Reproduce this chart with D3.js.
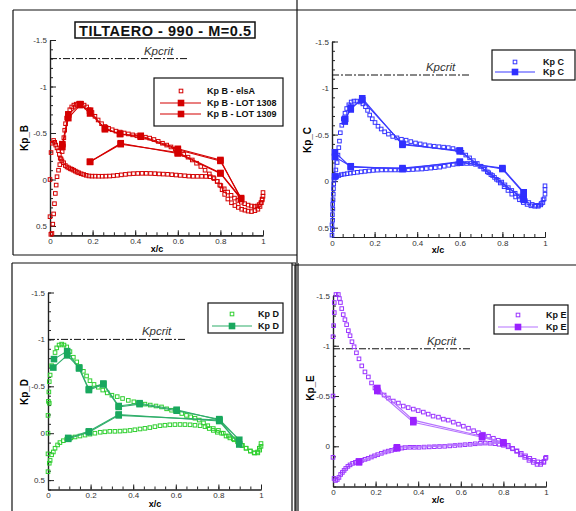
<!DOCTYPE html>
<html><head><meta charset="utf-8">
<script src="https://cdn.jsdelivr.net/npm/d3@7"></script>
<style>
body{margin:0;background:#fff}
svg{display:block}
text{font-family:"Liberation Sans",Arial,sans-serif}
</style>
</head><body>
<svg id="c" width="576" height="511"></svg>
<script>
// ---- Section B : elsA computation (x/c, Kp)
const elsaB = [
  [0.004,0.59],[0.000,0.40],[0.000,0.00],[0.005,-0.29],[0.011,-0.39],[0.017,-0.42],[0.022,-0.40],[0.027,-0.37],
  [0.033,-0.34],[0.040,-0.31],[0.044,-0.27],[0.048,-0.23],[0.056,-0.20],[0.064,-0.18],[0.072,-0.15],[0.080,-0.135],
  [0.088,-0.125],[0.096,-0.115],[0.103,-0.11],[0.111,-0.10],[0.119,-0.09],[0.127,-0.08],[0.135,-0.072],[0.146,-0.062],
  [0.158,-0.054],[0.170,-0.045],[0.183,-0.038],[0.197,-0.036],[0.212,-0.036],[0.228,-0.035],[0.245,-0.035],[0.262,-0.036],
  [0.280,-0.037],[0.298,-0.040],[0.316,-0.045],[0.335,-0.05],[0.354,-0.055],[0.373,-0.06],[0.392,-0.063],[0.412,-0.065],
  [0.432,-0.066],[0.452,-0.066],[0.472,-0.065],[0.492,-0.063],[0.512,-0.06],[0.532,-0.058],[0.552,-0.056],[0.572,-0.052],
  [0.592,-0.048],[0.612,-0.044],[0.632,-0.04],[0.652,-0.036],[0.672,-0.034],[0.692,-0.034],[0.712,-0.034],[0.732,-0.033],
  [0.752,-0.03],[0.770,-0.01],[0.785,0.02],[0.797,0.06],[0.808,0.11],[0.820,0.16],[0.835,0.21],[0.852,0.25],
  [0.868,0.28],[0.884,0.30],[0.900,0.32],[0.915,0.33],[0.930,0.34],[0.946,0.345],[0.962,0.335],[0.976,0.32],
  [0.986,0.29],[0.992,0.25],[0.996,0.21],
  [0.009,0.58],[0.013,0.48],[0.017,0.37],[0.021,0.26],[0.025,0.15],[0.029,0.06],[0.033,-0.03],[0.040,-0.10],
  [0.046,-0.16],[0.052,-0.22],[0.057,-0.30],[0.061,-0.38],[0.065,-0.45],[0.069,-0.53],[0.073,-0.60],[0.078,-0.66],
  [0.085,-0.71],[0.093,-0.75],[0.102,-0.78],[0.112,-0.80],[0.123,-0.81],[0.135,-0.82],[0.148,-0.82],[0.160,-0.80],
  [0.172,-0.78],[0.184,-0.75],[0.197,-0.72],[0.211,-0.68],[0.226,-0.64],[0.242,-0.60],[0.258,-0.57],[0.275,-0.55],
  [0.292,-0.535],[0.310,-0.52],[0.329,-0.51],[0.348,-0.50],[0.368,-0.49],[0.388,-0.48],[0.408,-0.47],[0.428,-0.465],
  [0.448,-0.455],[0.468,-0.445],[0.488,-0.43],[0.508,-0.41],[0.528,-0.39],[0.548,-0.37],[0.568,-0.35],[0.588,-0.325],
  [0.608,-0.30],[0.628,-0.27],[0.648,-0.24],[0.668,-0.21],[0.688,-0.175],[0.708,-0.14],[0.728,-0.10],[0.748,-0.06],
  [0.767,-0.02],[0.785,0.02],[0.802,0.065],[0.818,0.10],[0.834,0.135],[0.850,0.17],[0.866,0.20],[0.882,0.225],
  [0.898,0.245],[0.914,0.26],[0.930,0.275],[0.946,0.285],[0.960,0.29],[0.972,0.285],[0.982,0.27],[0.990,0.25],
  [0.996,0.22],[1.000,0.18],[1.000,0.14]
];
// Section B : wind tunnel runs
const lotB1308 = [[0.058,-0.35],[0.086,-0.66],[0.141,-0.80],[0.188,-0.74],[0.258,-0.54],[0.329,-0.49],[0.426,-0.47],
  [0.600,-0.33],[0.800,-0.21],[0.897,0.21],[0.800,-0.065],[0.600,-0.28],[0.332,-0.39],[0.188,-0.19]];
const lotB1309 = [[0.058,-0.38],[0.086,-0.70],[0.141,-0.81],[0.188,-0.71],[0.258,-0.55],[0.329,-0.49],[0.426,-0.46],
  [0.600,-0.32],[0.800,-0.20],[0.897,0.20],[0.800,-0.07],[0.600,-0.29],[0.332,-0.38],[0.188,-0.19]];

// ---- Section C
const elsaC = [
  [0.000,0.58],[0.002,0.52],[0.000,0.47],[0.003,0.42],[0.002,0.36],[0.004,0.30],[0.003,0.25],[0.005,0.20],
  [0.006,0.14],[0.007,0.08],[0.008,0.03],[0.010,-0.02],
  [0.012,-0.06],[0.018,-0.12],[0.024,-0.20],[0.028,-0.28],[0.032,-0.36],[0.035,-0.43],[0.039,-0.52],[0.046,-0.60],
  [0.053,-0.67],[0.061,-0.73],[0.069,-0.78],[0.079,-0.82],[0.090,-0.85],[0.103,-0.86],[0.117,-0.86],[0.131,-0.85],
  [0.145,-0.83],[0.157,-0.80],[0.167,-0.76],[0.177,-0.71],[0.189,-0.67],[0.202,-0.63],[0.216,-0.59],[0.231,-0.56],
  [0.247,-0.53],[0.265,-0.505],[0.285,-0.48],[0.305,-0.465],[0.326,-0.45],[0.348,-0.44],[0.370,-0.425],[0.392,-0.41],
  [0.414,-0.40],[0.436,-0.39],[0.458,-0.38],[0.480,-0.375],[0.502,-0.37],[0.524,-0.365],[0.546,-0.36],[0.568,-0.35],
  [0.590,-0.335],[0.610,-0.31],[0.628,-0.28],[0.646,-0.25],[0.664,-0.22],[0.682,-0.19],[0.700,-0.16],[0.718,-0.13],
  [0.736,-0.09],[0.754,-0.06],[0.772,-0.02],[0.790,0.02],[0.808,0.06],[0.826,0.10],[0.844,0.14],[0.862,0.17],
  [0.880,0.20],[0.898,0.23],[0.916,0.25],[0.934,0.265],[0.952,0.27],[0.968,0.27],[0.980,0.255],[0.990,0.23],
  [0.996,0.19],[1.000,0.14],[1.000,0.09],[1.000,0.05],
  [0.014,-0.04],[0.022,-0.05],[0.032,-0.06],[0.044,-0.07],[0.057,-0.075],[0.071,-0.08],[0.086,-0.085],[0.102,-0.09],
  [0.119,-0.095],[0.137,-0.10],[0.155,-0.105],[0.174,-0.11],[0.193,-0.115],[0.213,-0.118],[0.233,-0.12],[0.254,-0.12],
  [0.275,-0.12],[0.296,-0.12],[0.317,-0.12],[0.338,-0.12],[0.359,-0.122],[0.380,-0.125],[0.401,-0.128],[0.422,-0.13],
  [0.443,-0.135],[0.464,-0.14],[0.485,-0.145],[0.506,-0.15],[0.527,-0.16],[0.548,-0.17],[0.569,-0.18],[0.590,-0.185],
  [0.611,-0.19],[0.632,-0.19],[0.653,-0.19],[0.674,-0.18],[0.695,-0.16],[0.712,-0.13],[0.729,-0.10],[0.746,-0.07],
  [0.763,-0.04],[0.780,-0.01],[0.797,0.01],[0.812,0.04],[0.828,0.07],[0.844,0.10],[0.860,0.13],[0.876,0.16],
  [0.892,0.19],[0.908,0.21],[0.924,0.23],[0.940,0.25],[0.956,0.26],[0.970,0.26],[0.982,0.24],[0.991,0.20]
];
const lotC1 = [[0.062,-0.67],[0.088,-0.77],[0.142,-0.89],[0.331,-0.39],[0.600,-0.33],[0.900,0.20],[0.900,0.12],
  [0.800,-0.14],[0.600,-0.20],[0.331,-0.14],[0.088,-0.15],[0.014,-0.31],[0.014,-0.05]];
const lotC2 = [[0.060,-0.64],[0.088,-0.79],[0.142,-0.87],[0.331,-0.40],[0.600,-0.32],[0.900,0.19],[0.900,0.13],
  [0.800,-0.13],[0.600,-0.21],[0.331,-0.13],[0.088,-0.16],[0.014,-0.26]];

// ---- Section D
const elsaD = [
  [0.000,0.00],[0.000,-0.19],[0.002,-0.34],[0.000,0.22],[0.000,0.41],
  [0.006,-0.32],[0.004,-0.44],[0.006,-0.55],[0.010,-0.62],[0.017,-0.72],[0.025,-0.79],[0.033,-0.86],[0.041,-0.91],
  [0.052,-0.94],[0.064,-0.95],[0.075,-0.94],[0.088,-0.92],[0.103,-0.87],[0.119,-0.81],[0.135,-0.76],[0.150,-0.71],
  [0.166,-0.66],[0.181,-0.61],[0.197,-0.56],[0.216,-0.52],[0.236,-0.49],[0.257,-0.46],[0.278,-0.43],[0.300,-0.405],
  [0.325,-0.39],[0.350,-0.37],[0.377,-0.35],[0.403,-0.335],[0.430,-0.32],[0.455,-0.31],[0.480,-0.30],[0.507,-0.29],
  [0.533,-0.28],[0.557,-0.26],[0.580,-0.245],[0.604,-0.23],[0.628,-0.21],[0.650,-0.19],[0.670,-0.175],[0.690,-0.16],
  [0.710,-0.14],[0.730,-0.11],[0.750,-0.08],[0.776,-0.05],[0.800,-0.03],[0.823,0.00],[0.847,0.03],[0.870,0.06],
  [0.890,0.09],[0.910,0.13],[0.930,0.16],[0.950,0.19],[0.968,0.21],[0.984,0.20],[0.992,0.16],[1.000,0.11],
  [0.006,0.32],[0.010,0.29],[0.017,0.23],[0.025,0.20],[0.033,0.16],[0.045,0.125],[0.056,0.10],[0.072,0.08],
  [0.088,0.064],[0.107,0.05],[0.127,0.04],[0.150,0.03],[0.174,0.02],[0.197,0.01],[0.220,0.00],[0.245,-0.01],
  [0.267,-0.015],[0.290,-0.02],[0.314,-0.02],[0.338,-0.022],[0.361,-0.025],[0.385,-0.03],[0.408,-0.037],[0.432,-0.045],
  [0.455,-0.052],[0.478,-0.06],[0.502,-0.07],[0.526,-0.08],[0.549,-0.085],[0.572,-0.09],[0.596,-0.092],[0.620,-0.093],
  [0.643,-0.092],[0.667,-0.09],[0.690,-0.085],[0.714,-0.08],[0.737,-0.07],[0.757,-0.05],[0.776,-0.03],[0.795,-0.01],
  [0.815,0.00],[0.836,0.03],[0.854,0.05],[0.874,0.07],[0.893,0.10],[0.913,0.13],[0.930,0.16],[0.950,0.19],
  [0.970,0.21],[0.985,0.21],[0.994,0.18],[1.000,0.14]
];
const lotD1 = [[0.028,-0.79],[0.090,-0.875],[0.146,-0.69],[0.192,-0.46],[0.260,-0.52],[0.332,-0.28],[0.430,-0.31],
  [0.604,-0.24],[0.804,-0.15],[0.898,0.07],[0.804,-0.14],[0.332,-0.19],[0.192,-0.01],[0.095,0.06]];
const lotD2 = [[0.025,-0.70],[0.090,-0.83],[0.146,-0.70],[0.192,-0.47],[0.260,-0.53],[0.332,-0.29],[0.430,-0.32],
  [0.604,-0.25],[0.804,-0.14],[0.898,0.12],[0.804,-0.13],[0.332,-0.20],[0.192,-0.02],[0.095,0.05]];

// ---- Section E
const elsaE = [
  [0.000,-0.50],[0.000,0.11],
  [0.000,-1.09],[0.003,-1.20],[0.006,-1.33],[0.006,-1.43],[0.014,-1.51],[0.025,-1.51],[0.030,-1.47],[0.035,-1.43],
  [0.041,-1.37],[0.048,-1.31],[0.056,-1.26],[0.064,-1.21],[0.072,-1.15],[0.080,-1.10],[0.089,-1.04],[0.099,-0.99],
  [0.110,-0.93],[0.122,-0.87],[0.135,-0.80],[0.150,-0.74],[0.166,-0.69],[0.181,-0.63],[0.197,-0.58],[0.217,-0.54],
  [0.240,-0.51],[0.260,-0.48],[0.283,-0.45],[0.307,-0.43],[0.330,-0.40],[0.353,-0.385],[0.377,-0.37],[0.400,-0.355],
  [0.424,-0.34],[0.447,-0.32],[0.470,-0.30],[0.495,-0.29],[0.518,-0.27],[0.541,-0.26],[0.565,-0.24],[0.589,-0.22],
  [0.612,-0.20],[0.636,-0.18],[0.660,-0.155],[0.683,-0.135],[0.706,-0.12],[0.730,-0.10],[0.753,-0.08],[0.776,-0.06],
  [0.800,-0.035],[0.823,-0.01],[0.843,0.02],[0.862,0.05],[0.880,0.085],[0.900,0.11],[0.920,0.14],[0.940,0.16],
  [0.958,0.18],[0.975,0.18],[0.990,0.16],[1.000,0.11],
  [0.005,0.32],[0.012,0.34],[0.020,0.33],[0.028,0.31],[0.036,0.28],[0.044,0.26],[0.052,0.24],[0.060,0.22],
  [0.070,0.20],[0.080,0.185],[0.092,0.17],[0.105,0.16],[0.120,0.15],[0.135,0.14],[0.150,0.13],[0.165,0.12],
  [0.180,0.107],[0.195,0.095],[0.210,0.083],[0.227,0.07],[0.244,0.057],[0.260,0.048],[0.275,0.04],[0.291,0.031],
  [0.307,0.023],[0.323,0.018],[0.338,0.013],[0.360,0.01],[0.382,0.01],[0.404,0.01],[0.428,0.008],[0.452,0.006],
  [0.476,0.004],[0.500,0.002],[0.524,0.0],[0.548,-0.004],[0.572,-0.008],[0.596,-0.012],[0.620,-0.016],[0.644,-0.02],
  [0.668,-0.025],[0.692,-0.03],[0.715,-0.032],[0.738,-0.03],[0.760,-0.026],[0.780,-0.02],[0.800,-0.01],[0.822,0.005],
  [0.843,0.025],[0.864,0.045],[0.884,0.07],[0.904,0.095],[0.924,0.12],[0.944,0.14],[0.962,0.155],[0.978,0.16],
  [0.990,0.15],[0.997,0.12]
];
const lotE1 = [[0.208,-0.58],[0.377,-0.26],[0.700,-0.10],[0.800,-0.04],[0.300,0.01],[0.122,0.15]];
const lotE2 = [[0.208,-0.55],[0.377,-0.24],[0.700,-0.09],[0.800,-0.03],[0.300,0.02],[0.122,0.16]];

// critical pressure coefficient per section
const kpcrit = [-1.30, -1.14, -1.00, -0.97];
const yTitles = ["Kp_B", "Kp_C", "Kp_D", "Kp_E"];
const legendLabels = [
  ["Kp B - elsA", "Kp B - LOT 1308", "Kp B - LOT 1309"],
  ["Kp C", "Kp C"],
  ["Kp D", "Kp D"],
  ["Kp E", "Kp E"]
];
const yMajorTicks = [-1.5, -1, -0.5, 0, 0.5];
const xMajorTicks = [0, 0.2, 0.4, 0.6, 0.8, 1];
const yDomains = [[-1.5, 0.6], [-1.5, 0.6], [-1.5, 0.6], [-1.5, 0.4]];
const title = "TILTAERO - 990 - M=0.5";

const svg = d3.select("#c");

// panel frames
const frame = svg.append("g").attr("stroke", "#111").attr("fill", "none").attr("stroke-width", 1.2);
[[13,10,297,10],[13,10,13,255],[13,255,297,255],[297,0,297,263],[297,10,576,10],
 [12,263,296,263],[12,263,12,511],[296,263,296,511],[298,263,298,511],
 [292,265,576,265],[292,263,292,511],[295,265,295,511]].forEach(l =>
  frame.append("line").attr("x1", l[0]).attr("y1", l[1]).attr("x2", l[2]).attr("y2", l[3]));

const panels = [
  { elsa: elsaB, lots: [lotB1308, lotB1309], elsaColor: "#d40000", lotColor: "#d40000", lineColor: "#d40000",
    box: { x0: 50, x1: 263, yt: 40, yb: 235.3 }, yt: [28, 138], xt: [157, 252],
    legend: { x: 154, y: 78, w: 129, h: 48, sym: 181, l0: 160, l1: 201, tx: 207, rows: [91, 103, 114] } },
  { elsa: elsaC, lots: [lotC1, lotC2], elsaColor: "#3535ff", lotColor: "#2f2fff", lineColor: "#3a3aff",
    box: { x0: 332, x1: 545, yt: 41.5, yb: 237 }, yt: [311, 140], xt: [438, 253],
    legend: { x: 492, y: 50, w: 83, h: 30, sym: 515, l0: 495, l1: 535, tx: 543, rows: [62, 72] } },
  { elsa: elsaD, lots: [lotD1, lotD2], elsaColor: "#2fcf2f", lotColor: "#19a85e", lineColor: "#2fae6a",
    box: { x0: 48, x1: 261, yt: 292.5, yb: 489.5 }, yt: [28, 392], xt: [155, 507],
    legend: { x: 208, y: 303, w: 75, h: 30, sym: 232, l0: 212, l1: 252, tx: 258, rows: [314, 326] } },
  { elsa: elsaE, lots: [lotE1, lotE2], elsaColor: "#9a33ff", lotColor: "#9a22ff", lineColor: "#b673ff",
    box: { x0: 333, x1: 546, yt: 295.5, yb: 486.5 }, yt: [314, 388], xt: [438, 503],
    legend: { x: 494, y: 305, w: 74, h: 29, sym: 518, l0: 498, l1: 538, tx: 546, rows: [315, 327] } }
];

const fmt = d => String(d);

panels.forEach((p, i) => {
  const g = svg.append("g");
  const dom = yDomains[i];
  const x = d3.scaleLinear().domain([0, 1]).range([p.box.x0, p.box.x1]);
  const y = d3.scaleLinear().domain(dom).range([p.box.yt, p.box.yb]);

  // y axis: major + minor ticks pointing inward
  const yMinor = d3.range(Math.round(dom[0] * 10), Math.round(dom[1] * 10) + 1).map(v => v / 10);
  const ya = g.append("g").attr("transform", `translate(${p.box.x0},0)`);
  ya.call(d3.axisLeft(y).tickValues(yMinor).tickSize(-3).tickSizeOuter(0).tickFormat(""));
  ya.append("g").call(d3.axisLeft(y).tickValues(yMajorTicks.filter(v => v <= dom[1]))
      .tickSize(-6).tickSizeOuter(0).tickPadding(3).tickFormat(fmt));
  // x axis at the bottom
  const xMinor = d3.range(0, 21).map(v => v / 20);
  const xa = g.append("g").attr("transform", `translate(0,${p.box.yb})`);
  xa.call(d3.axisBottom(x).tickValues(xMinor).tickSize(-3).tickSizeOuter(0).tickFormat(""));
  xa.append("g").call(d3.axisBottom(x).tickValues(xMajorTicks).tickSize(-5).tickSizeOuter(0)
      .tickPadding(3).tickFormat(fmt));
  g.selectAll(".domain").attr("stroke", "#222").attr("stroke-width", 1.2);
  g.selectAll(".tick line").attr("stroke", "#222").attr("stroke-width", 1);
  g.selectAll(".tick text").attr("font-size", 8).attr("fill", "#333")
    .attr("font-family", '"Liberation Sans",Arial,sans-serif');

  // axis titles
  g.append("text").attr("transform", `translate(${p.yt[0]},${p.yt[1]}) rotate(-90)`)
    .attr("text-anchor", "middle").attr("font-size", 10).attr("font-weight", "bold").text(yTitles[i]);
  g.append("text").attr("x", p.xt[0]).attr("y", p.xt[1]).attr("text-anchor", "middle")
    .attr("font-size", 9).attr("font-weight", "bold").text("x/c");

  // critical Kp reference
  g.append("line").attr("x1", x(0)).attr("x2", x(0.65)).attr("y1", y(kpcrit[i])).attr("y2", y(kpcrit[i]))
    .attr("stroke", "#111").attr("stroke-width", 1).attr("stroke-dasharray", "7,2,2,2");
  g.append("text").attr("x", x(0.51)).attr("y", y(kpcrit[i]) - 4).attr("text-anchor", "middle")
    .attr("font-family", '"Liberation Serif","Times New Roman",serif').attr("font-style", "italic")
    .attr("font-size", 11.5).attr("fill", "#333").text("Kpcrit");

  // computed distribution: hollow squares
  g.append("g").selectAll("rect").data(p.elsa).join("rect")
    .attr("x", d => x(d[0]) - 1.8).attr("y", d => y(d[1]) - 1.8).attr("width", 3.6).attr("height", 3.6)
    .attr("fill", "none").attr("stroke", p.elsaColor).attr("stroke-width", 1);

  // measured runs: lines with filled squares
  const line = d3.line().x(d => x(d[0])).y(d => y(d[1]));
  p.lots.forEach(run => {
    g.append("path").datum(run).attr("d", line).attr("fill", "none")
      .attr("stroke", p.lineColor).attr("stroke-width", 1.1);
  });
  p.lots.forEach(run => {
    g.append("g").selectAll("rect").data(run).join("rect")
      .attr("x", d => x(d[0]) - 3.3).attr("y", d => y(d[1]) - 3.3).attr("width", 6.6).attr("height", 6.6)
      .attr("fill", p.lotColor);
  });

  // legend
  const L = p.legend;
  const lg = g.append("g");
  lg.append("rect").attr("x", L.x).attr("y", L.y).attr("width", L.w).attr("height", L.h)
    .attr("fill", "#fff").attr("stroke", "#111").attr("stroke-width", 1.2);
  legendLabels[i].forEach((lab, k) => {
    const ry = L.rows[k];
    if (k === 0) {
      lg.append("rect").attr("x", L.sym - 1.8).attr("y", ry - 1.8).attr("width", 3.6).attr("height", 3.6)
        .attr("fill", "none").attr("stroke", p.elsaColor).attr("stroke-width", 1);
    } else {
      lg.append("line").attr("x1", L.l0).attr("x2", L.l1).attr("y1", ry).attr("y2", ry)
        .attr("stroke", p.lineColor).attr("stroke-width", 1.1);
      lg.append("rect").attr("x", L.sym - 3.3).attr("y", ry - 3.3).attr("width", 6.6).attr("height", 6.6)
        .attr("fill", p.lotColor);
    }
    lg.append("text").attr("x", L.tx).attr("y", ry + 3).attr("font-size", 9).attr("font-weight", "bold")
      .attr("fill", "#111").text(lab);
  });
});

// title box
svg.append("rect").attr("x", 75).attr("y", 22).attr("width", 180).attr("height", 16)
  .attr("fill", "#fff").attr("stroke", "#111").attr("stroke-width", 1.5);
svg.append("text").attr("x", 79).attr("y", 35.5).attr("textLength", 172).attr("lengthAdjust", "spacing")
  .attr("font-size", 14.5).attr("font-weight", "bold").attr("fill", "#111").text(title);
</script>
</body></html>
